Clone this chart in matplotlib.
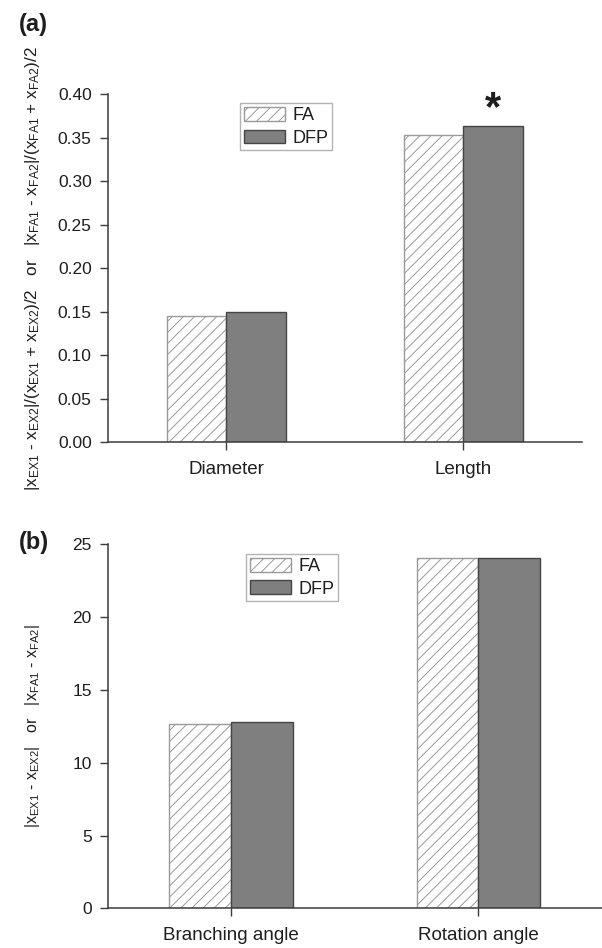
import matplotlib
matplotlib.use('Agg')
import matplotlib.pyplot as plt
import numpy as np

# ---------------- data ----------------
series = ['FA', 'DFP']
cats_a = ['Diameter', 'Length']
fa_a = [0.145, 0.353]
dfp_a = [0.150, 0.364]
yticks_a = [0.00, 0.05, 0.10, 0.15, 0.20, 0.25, 0.30, 0.35, 0.40]

cats_b = ['Branching angle', 'Rotation angle']
fa_b = [12.65, 24.05]
dfp_b = [12.8, 24.05]
yticks_b = [0, 5, 10, 15, 20, 25]

star_category = 'Length'

ylabel_a = ('|$x_{EX1}$ - $x_{EX2}$|/($x_{EX1}$ + $x_{EX2}$)/2   or   '
            '|$x_{FA1}$ - $x_{FA2}$|/($x_{FA1}$ + $x_{FA2}$)/2')
ylabel_b = '|$x_{EX1}$ - $x_{EX2}$|   or   |$x_{FA1}$ - $x_{FA2}$|'

# ---------------- style ----------------
plt.rcParams['font.family'] = ['Liberation Sans', 'DejaVu Sans']
plt.rcParams['mathtext.fontset'] = 'custom'
plt.rcParams['mathtext.rm'] = 'Liberation Sans'
plt.rcParams['mathtext.it'] = 'Liberation Sans'
plt.rcParams['mathtext.default'] = 'regular'
plt.rcParams['hatch.linewidth'] = 0.7

TXT = '#1e1e1e'
AX = '#3c3c3c'
HATCH = '#9a9a9a'
DFP_C = '#7f7f7f'
DFP_E = '#454545'

W, H = 602, 948
fig = plt.figure(figsize=(W / 100, H / 100), dpi=100)

def px_axes(left, right, top, bottom):
    return [left / W, 1 - bottom / H, (right - left) / W, (bottom - top) / H]

ax_a = fig.add_axes(px_axes(107.7, 582, 94.3, 442.3))
ax_b = fig.add_axes(px_axes(107.7, 602, 544.3, 908.3))

bw = 0.25

def draw(ax, cats, fa, dfp, yticks, ylabel, ylsize, fmt, leg_anchor):
    x = np.arange(len(cats))
    h_fa = ax.bar(x - bw / 2, fa, bw, color='white', edgecolor=HATCH,
                  hatch='///', linewidth=1.0, label=series[0])
    h_dfp = ax.bar(x + bw / 2, dfp, bw, color=DFP_C, edgecolor=DFP_E,
                   linewidth=1.0, label=series[1])
    ax.set_xlim(-0.5, 1.5)
    ax.set_ylim(yticks[0], yticks[-1])
    ax.set_yticks(yticks)
    ax.set_yticklabels([fmt.format(v) for v in yticks])
    ax.set_xticks(x)
    ax.set_xticklabels(cats)
    for s in ['top', 'right']:
        ax.spines[s].set_visible(False)
    for s in ['left', 'bottom']:
        ax.spines[s].set_color(AX)
        ax.spines[s].set_linewidth(1.1)
    ax.tick_params(axis='y', direction='out', length=5.5, width=1.0,
                   color=AX, labelsize=12.5, labelcolor=TXT, pad=6)
    ax.tick_params(axis='x', direction='out', length=5.5, width=1.0,
                   color=AX, labelsize=13.5, labelcolor=TXT, pad=8)
    ax.set_ylabel(ylabel, fontsize=ylsize, color=TXT)
    axw = ax.get_position().width * W
    ax.yaxis.set_label_coords((42 - 107.7) / axw, 0.5)
    leg = ax.legend(handles=[h_fa, h_dfp], loc='upper left',
                    bbox_to_anchor=leg_anchor, borderaxespad=0,
                    fontsize=13, frameon=True, fancybox=False,
                    handlelength=2.3, handleheight=0.8, handletextpad=0.4,
                    borderpad=0.2, labelspacing=0.3)
    leg.get_frame().set_edgecolor('#a0a0a0')
    leg.get_frame().set_linewidth(1.0)
    for t in leg.get_texts():
        t.set_color(TXT)
    return x

xa = draw(ax_a, cats_a, fa_a, dfp_a, yticks_a, ylabel_a, 12.3, '{:.2f}',
          (0.279, 0.974))
xb = draw(ax_b, cats_b, fa_b, dfp_b, yticks_b, ylabel_b, 11.5, '{:d}',
          (0.280, 0.973))

# significance star above DFP bar of Length
i = cats_a.index(star_category)
ax_a.text(xa[i] + bw / 2, dfp_a[i] + 0.006, '*', ha='center', va='baseline',
          fontsize=30, fontweight='bold', color=TXT)

fig.text(33 / W, 1 - 24 / H, '(a)', ha='center', va='center',
         fontsize=17, fontweight='bold', color=TXT)
fig.text(34 / W, 1 - 543 / H, '(b)', ha='center', va='center',
         fontsize=17, fontweight='bold', color=TXT)

fig.savefig('out.png', dpi=100)
